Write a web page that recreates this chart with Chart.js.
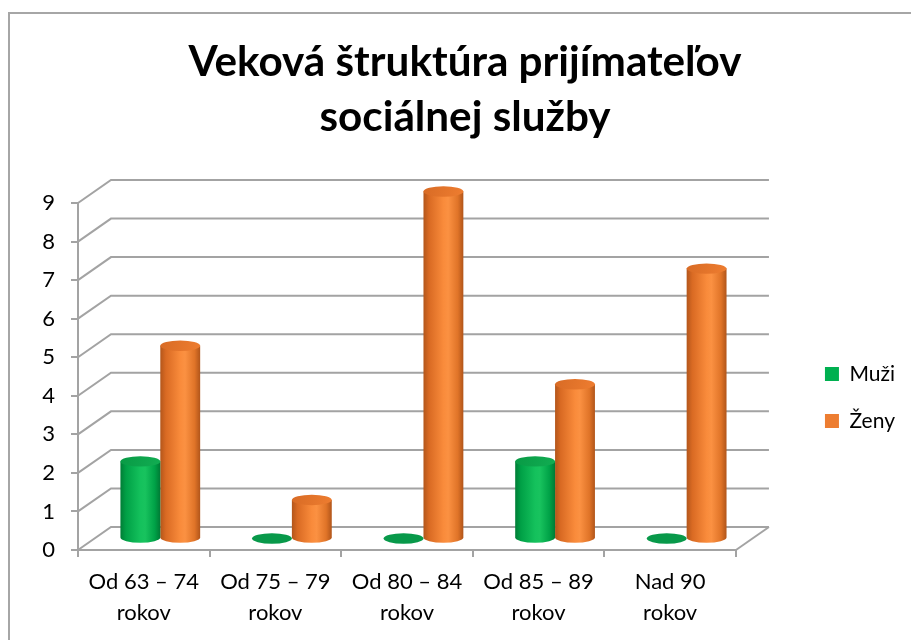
<!DOCTYPE html>
<html><head><meta charset="utf-8">
<script src="https://cdn.jsdelivr.net/npm/chart.js@4/dist/chart.umd.min.js"></script>
<style>html,body{margin:0;padding:0;background:#fff;}#wrap{width:911px;height:640px;position:relative;overflow:hidden;}</style>
</head><body><div id="wrap"><canvas id="c" width="911" height="640"></canvas></div>
<script>
// ---- data ----
const categories = [['Od 63 – 74','rokov'],['Od 75 – 79','rokov'],['Od 80 – 84','rokov'],['Od 85 – 89','rokov'],['Nad 90','rokov']];
const seriesNames = ['Muži','Ženy'];
const muzi = [2,0,0,2,0];
const zeny = [5,1,9,4,7];
const yTicks = [0,1,2,3,4,5,6,7,8,9];
const titleLines = ['Veková štruktúra prijímateľov','sociálnej služby'];

// ---- style ----
const FONT = 'Lato';
const GRID = '#a3a3a3';
const WALL_DX = 33, WALL_DY = -23;     // depth of the 3D box
const BAR_DX = 16.5, BAR_DY = -11.5;   // bars sit in middle depth
const palette = {
  green: {solid:'#00b050', stops:[[0,'#007d36'],[0.14,'#00a046'],[0.5,'#14c15c'],[0.62,'#18c35e'],[0.86,'#00a247'],[1,'#007a35']], top:['#089a45','#12ad52'], disc:'#08994a'},
  orange:{solid:'#ed7d31', stops:[[0,'#b3561b'],[0.14,'#d96a23'],[0.5,'#f98b3b'],[0.62,'#fb9142'],[0.86,'#e07428'],[1,'#b1551a']], top:['#d86b25','#ee7d30'], disc:'#e7772d'}
};

const mc = document.createElement('canvas').getContext('2d');
mc.font = 'bold 36px ' + FONT;
const titleSize = 36 * 553 / mc.measureText(titleLines[0]).width;

function drawCylinder(ctx, cx, top, bottom, rx, ry, pal) {
  if (bottom - top < 0.5) {
    ctx.fillStyle = pal.disc;
    ctx.beginPath(); ctx.ellipse(cx, bottom, rx, ry, 0, 0, Math.PI*2); ctx.fill();
    return;
  }
  const g = ctx.createLinearGradient(cx - rx, 0, cx + rx, 0);
  pal.stops.forEach(s => g.addColorStop(s[0], s[1]));
  ctx.fillStyle = g;
  ctx.beginPath();
  ctx.moveTo(cx - rx, top);
  ctx.lineTo(cx - rx, bottom);
  ctx.ellipse(cx, bottom, rx, ry, 0, Math.PI, 0, true);
  ctx.lineTo(cx + rx, top);
  ctx.closePath();
  ctx.fill();
  const gt = ctx.createLinearGradient(cx - rx, top - ry, cx + rx, top + ry);
  gt.addColorStop(0, pal.top[0]); gt.addColorStop(1, pal.top[1]);
  ctx.fillStyle = gt;
  ctx.beginPath(); ctx.ellipse(cx, top, rx, ry, 0, 0, Math.PI*2); ctx.fill();
}

const scenePlugin = {
  id: 'scene',
  beforeDraw(chart) {
    const ctx = chart.ctx;
    ctx.save();
    ctx.fillStyle = '#fff'; ctx.fillRect(0, 0, chart.width, chart.height);
    ctx.fillStyle = '#a6a6a6';
    ctx.fillRect(8, 12, chart.width, 2);
    ctx.fillRect(8, 12, 2, chart.height);
    ctx.restore();
  },
  beforeDatasetsDraw(chart) {
    const ctx = chart.ctx, ys = chart.scales.y, ca = chart.chartArea;
    ctx.save();
    ctx.strokeStyle = GRID; ctx.lineWidth = 2; ctx.lineJoin = 'miter';
    yTicks.forEach(v => {
      const py = ys.getPixelForValue(v);
      ctx.beginPath();
      ctx.moveTo(ca.left, py);
      ctx.lineTo(ca.left + WALL_DX, py + WALL_DY);
      ctx.lineTo(ca.right + WALL_DX, py + WALL_DY);
      ctx.stroke();
    });
    const p0 = ys.getPixelForValue(0);
    ctx.beginPath();
    ctx.moveTo(ca.right, p0);
    ctx.lineTo(ca.right + WALL_DX, p0 + WALL_DY);
    ctx.stroke();
    ctx.restore();
  },
  beforeDatasetDraw(chart, args) {
    const ctx = chart.ctx;
    const meta = args.meta;
    const pal = args.index === 0 ? palette.green : palette.orange;
    ctx.save();
    meta.data.forEach(el => {
      const p = el.getProps(['x','y','base','width'], true);
      const rx = p.width / 2;
      drawCylinder(ctx, p.x + BAR_DX, p.y + BAR_DY, p.base + BAR_DY, rx, rx * 0.26, pal);
    });
    ctx.restore();
    return false;
  }
};

new Chart(document.getElementById('c'), {
  type: 'bar',
  data: {
    labels: categories,
    datasets: [
      {label: seriesNames[0], data: muzi, backgroundColor: palette.green.solid, borderWidth: 0, yAxisID: 'y'},
      {label: seriesNames[1], data: zeny, backgroundColor: palette.orange.solid, borderWidth: 0, yAxisID: 'y'}
    ]
  },
  options: {
    responsive: false, animation: false, devicePixelRatio: 1,
    layout: {padding: {left: 25, right: 6, top: 0, bottom: 0}},
    datasets: {bar: {categoryPercentage: 0.606, barPercentage: 1}},
    plugins: {
      title: {display: true, text: titleLines, color: '#000',
        font: {family: FONT, weight: 'bold', size: titleSize, lineHeight: 55 / titleSize},
        padding: {top: 34.5, bottom: 58.5}},
      legend: {position: 'right', fullSize: false,
        title: {display: true, text: ' ', font: {size: 10, lineHeight: 1}, padding: {top: 16, bottom: 16}},
        labels: {font: {family: FONT, size: 21}, color: '#000', boxWidth: 14, boxHeight: 14, padding: 26}},
      tooltip: {enabled: false}
    },
    scales: {
      x: {
        grid: {drawOnChartArea: false, drawTicks: true, tickLength: 7, color: GRID, lineWidth: 2},
        border: {display: true, color: GRID, width: 2},
        ticks: {font: {family: FONT, size: 22, lineHeight: 1.41}, color: '#000', padding: 9.5, maxRotation: 0, autoSkip: false},
        afterFit(s) { s.height = 90; }
      },
      y: {
        min: 0, max: 9,
        afterBuildTicks(s) { s.ticks = yTicks.map(v => ({value: v})); },
        grid: {drawOnChartArea: false, drawTicks: true, tickLength: 7, color: GRID, lineWidth: 2},
        border: {display: true, color: GRID, width: 2},
        ticks: {font: {family: FONT, size: 22}, color: '#000', padding: 16},
        afterFit(s) { s.width = 53; }
      },
      y2: {
        position: 'right', min: 0, max: 9,
        grid: {display: false}, border: {display: false}, ticks: {display: false},
        afterFit(s) { s.width = 63; }
      }
    }
  },
  plugins: [scenePlugin]
});
</script>
</body></html>
